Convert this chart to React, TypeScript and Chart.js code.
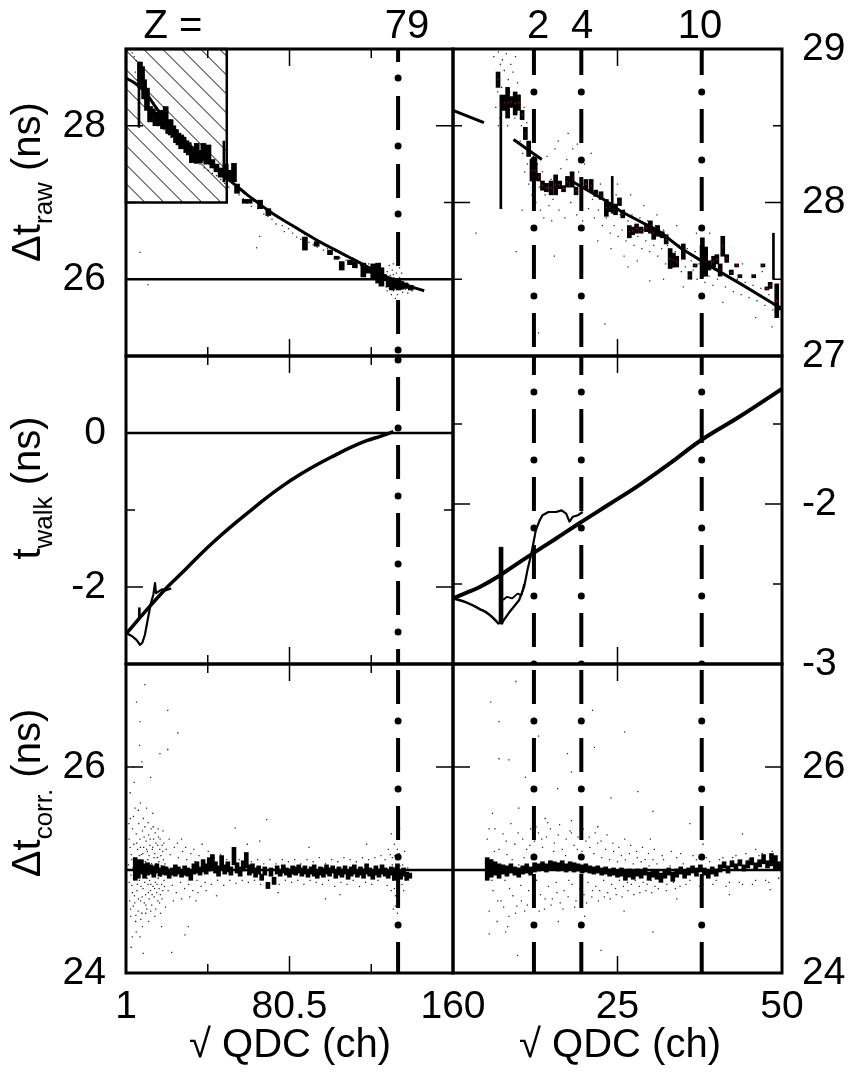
import React, { useEffect, useRef } from 'react';
import { Chart, registerables } from 'chart.js';

Chart.register(...registerables);

const W = 849;
const H = 1076;
const FONT_FAMILY = "'Liberation Sans', Arial, Helvetica, sans-serif";

type Pt = [number, number];
type Bar = [number, number, number];

// ---------------- axis ranges & ticks ----------------
const leftX: Pt = [1, 160];
const rightX: Pt = [0, 50];
const leftXLabels = [1, 80.5, 160];
const rightXLabels = [25, 50];
const leftXMajor = [80.5];
const leftXMinor = [40.75, 120.25];
const rightXMajor = [25];

const tlY: Pt = [25, 29];
const trY: Pt = [27, 29];
const mlY: Pt = [-3, 1];
const mrY: Pt = [-3, -1.075];
const blY: Pt = [24, 27];
const brY: Pt = [24, 27];

const tlYLabels = [28, 26];
const trYLabels = [29, 28, 27];
const mlYLabels = [0, -2];
const mrYLabels = [-2, -3];
const blYLabels = [26, 24];
const brYLabels = [26, 24];

// ---------------- markers ----------------
const zLeft = [133.3];
const zRight = [12.3, 19.5, 37.8];
const hatchBox = [1, 50, 27, 29];
const refTL = 26;
const refML = 0;
const refBottom = 25;

// ---------------- top-left: dt raw vs sqrt QDC (1..160) ----------------
const tlFit: Pt[] = [[1,28.62],[5,28.56],[10,28.45],[15,28.26],[20,28.08],[25,27.93],[30,27.8],[35,27.67],[40,27.55],[45,27.44],[50,27.32],[55,27.21],[60,27.1],[65,27.0],[70,26.9],[75,26.81],[80,26.73],[85,26.65],[90,26.57],[95,26.49],[100,26.42],[105,26.35],[110,26.28],[115,26.21],[120,26.14],[125,26.07],[130,26.0],[135,25.95],[140,25.9],[146,25.85]];
const tlBars: Bar[] = [[7.8,28.5,28.83],[8.8,28.56,28.77],[9.8,28.35,28.6],[11.2,28.2,28.49],[12.7,28.05,28.25],[14,28.1,28.22],[15.3,28.0,28.18],[16.5,28.03,28.15],[17.8,28.0,28.2],[19,27.96,28.12],[20.3,28.0,28.25],[21.5,27.9,28.05],[22.7,27.88,28.08],[24,27.85,28.0],[25.3,27.78,27.95],[26.5,27.75,27.9],[27.8,27.7,27.88],[29,27.72,27.85],[30.3,27.65,27.8],[31.5,27.62,27.78],[33,27.52,27.72],[34.5,27.55,27.66],[35.4,27.51,27.77],[37,27.52,27.68],[38.6,27.55,27.77],[40,27.5,27.62],[41.1,27.53,27.75],[43,27.45,27.56],[45,27.4,27.5],[47,27.33,27.45],[49.5,27.3,27.5],[51.5,27.28,27.42],[53.5,27.27,27.51],[55,27.12,27.24],[58.7,26.99,27.04],[61.1,26.99,27.04],[66.2,26.92,27.03],[70.2,26.83,26.92],[88,26.38,26.55],[93.7,26.43,26.49],[100.2,26.32,26.38],[103.4,26.26,26.3],[105.9,26.12,26.23],[109.9,26.19,26.25],[112.3,26.15,26.23],[116.4,26.03,26.21],[118.8,26.08,26.15],[121.2,26.0,26.2],[123.6,25.95,26.21],[125.2,25.91,26.15],[126.5,25.98,26.06],[128.7,25.9,26.03],[130.3,25.86,26.02],[132,25.88,26.0],[133.5,25.86,25.98],[135,25.87,25.97],[137,25.88,25.95],[139.5,25.86,25.92]];
const tlThinBars: Bar[] = [[7.3,27.98,28.83],[48.6,27.27,27.8]];
const tlDots: Pt[] = [[4,28.95],[5,28.9],[6,28.85],[5.5,28.7],[6.5,28.6],[7,28.75],[8,28.7],[8.5,28.55],[9,28.45],[9.5,28.62],[10,28.35],[10.5,28.5],[11,28.3],[11.5,28.4],[12,28.2],[12.5,28.35],[13,28.1],[13.5,28.25],[14,28.15],[14.5,28.3],[15,28.05],[15.5,28.2],[16,28.12],[16.5,28.0],[17,28.18],[17.5,28.08],[18,27.98],[18.5,28.15],[19,28.05],[19.5,27.95],[20,28.1],[21,27.9],[21.5,28.05],[22,27.95],[22.5,28.08],[23,27.85],[24,27.98],[24.5,27.88],[25,27.8],[25.5,27.95],[26,27.85],[27,27.75],[27.5,27.9],[28,27.8],[29,27.7],[29.5,27.85],[30,27.75],[31,27.65],[31.5,27.8],[32,27.7],[33,27.6],[33.5,27.72],[34,27.65],[35,27.55],[35.5,27.68],[36,27.6],[37,27.5],[37.5,27.62],[38,27.55],[39,27.45],[40,27.52],[41,27.42],[42,27.5],[43,27.38],[44,27.45],[45,27.35],[46,27.4],[47,27.3],[48,27.36],[49,27.25],[50,27.3],[51,27.2],[52,27.28],[54,27.15],[56,27.1],[58,27.05],[60,27.0],[62,26.95],[63,27.02],[65,26.92],[64.5,26.41],[66,26.56],[68,26.85],[70,26.82],[72,26.78],[74,26.72],[75,26.8],[77,26.7],[78,26.62],[80,26.66],[82,26.6],[84,26.55],[86,26.52],[88,26.58],[90,26.48],[92,26.45],[94,26.42],[95,26.5],[97,26.38],[99,26.4],[101,26.33],[103,26.36],[105,26.28],[106,26.22],[108,26.25],[110,26.2],[111,26.28],[113,26.15],[115,26.18],[116,26.1],[118,26.12],[119,26.2],[120,26.08],[121,26.15],[122,26.05],[123,26.1],[124,26.0],[125,26.06],[126,25.95],[127,26.02],[127.5,25.9],[128,26.1],[128.5,25.98],[129,25.88],[129.5,26.05],[130,25.95],[130.5,26.12],[131,25.85],[131.5,26.0],[132,25.92],[132.5,26.08],[133,25.8],[133.5,25.95],[134,26.02],[134.5,25.88],[135,25.97],[135.5,25.83],[136,25.92],[136.5,26.0],[137,25.87],[137.5,25.95],[138,25.82],[139,25.9],[140,25.85],[141,25.88],[129,26.18],[131,26.2],[132,25.75],[133,25.72],[130,25.8],[134,26.15],[128,25.85],[135,26.08],[131,26.06],[132.5,25.98],[133.5,25.88],[130.5,25.9],[129.5,25.93],[7.8,26.35],[11.7,25.93]];

// ---------------- top-right: dt raw vs sqrt QDC (0..50) ----------------
const trFitA: Pt[] = [[0,28.6],[4.7,28.52]];
const trFitB: Pt[] = [[9.2,28.41],[13.5,28.28]];
const trFitC: Pt[] = [[17.2,28.16],[22.9,28.02],[25.6,27.94],[31.4,27.81],[34.7,27.7],[38.5,27.6],[44.1,27.46],[48.7,27.34],[50,27.31]];
const trBars: Bar[] = [[6.85,28.75,28.85],[7.78,28.6,28.7],[8.3,28.55,28.75],[8.8,28.62,28.69],[9.45,28.57,28.72],[9.96,28.6,28.7],[10.5,28.54,28.6],[11.0,28.41,28.49],[11.5,28.3,28.4],[12.0,28.14,28.28],[12.5,28.15,28.26],[13.0,28.14,28.19],[13.6,28.08,28.14],[14.2,28.07,28.125],[14.9,28.05,28.14],[15.6,28.05,28.18],[16.2,28.09,28.14],[16.8,28.07,28.11],[17.4,28.1,28.17],[18.1,28.1,28.2],[18.7,28.05,28.1],[20.2,28.09,28.15],[21.0,28.07,28.15],[21.7,28.04,28.08],[22.5,28.02,28.07],[23.3,27.91,28.02],[23.8,27.94,28.0],[24.7,27.92,27.99],[25.3,27.98,28.03],[25.8,27.9,27.95],[26.8,27.77,27.85],[27.3,27.79,27.84],[27.9,27.8,27.86],[28.6,27.8,27.84],[29.4,27.81,27.86],[30.0,27.8,27.88],[30.5,27.76,27.84],[31.1,27.78,27.85],[31.8,27.77,27.81],[32.4,27.73,27.79],[33.0,27.57,27.7],[33.5,27.58,27.67],[34.0,27.58,27.65],[35.0,27.63,27.73],[36.0,27.5,27.55],[36.8,27.58,27.6],[37.9,27.52,27.77],[38.4,27.52,27.71],[38.9,27.56,27.62],[39.6,27.58,27.65],[40.1,27.6,27.66],[40.6,27.52,27.6],[41.0,27.65,27.78],[41.6,27.61,27.66],[42.3,27.53,27.56],[43.1,27.58,27.6],[43.6,27.51,27.53],[45.7,27.51,27.53],[47.1,27.58,27.6],[47.7,27.43,27.45],[48.2,27.44,27.48],[49.2,27.25,27.47],[49.7,27.3,27.32]];
const trThinBars: Bar[] = [[7.27,27.96,28.7],[24.2,27.93,28.17],[48.7,27.5,27.8]];
const trDots: Pt[] = [[6.2,28.95],[6.6,28.82],[6.9,28.98],[7.2,28.9],[7.5,28.93],[7.8,28.86],[8.1,28.97],[8.4,28.8],[8.8,28.9],[9.1,28.85],[9.5,28.95],[9.8,28.78],[6.5,28.62],[7.1,28.55],[7.6,28.68],[8.3,28.5],[8.9,28.62],[9.4,28.55],[10.1,28.7],[10.4,28.5],[10.8,28.62],[6.8,28.72],[7.4,28.75],[8.6,28.72],[10.2,28.4],[10.6,28.32],[11,28.45],[11.3,28.25],[11.6,28.38],[11.9,28.2],[12.2,28.3],[12.5,28.15],[12.8,28.25],[13.1,28.1],[10.9,28.2],[11.5,28.12],[12,28.05],[12.6,28.0],[13.3,27.95],[10.5,27.95],[11.2,28.52],[12.4,28.42],[13.6,28.2],[14,28.05],[14.3,28.3],[14.6,27.98],[14.9,28.15],[15.2,28.02],[15.5,28.35],[15.8,28.1],[16.1,27.95],[16.4,28.22],[16.7,28.08],[17,27.9],[17.3,28.28],[17.6,28.15],[17.9,28.0],[18.2,28.35],[18.5,28.1],[18.8,27.92],[19.1,28.2],[19.4,28.05],[19.7,27.88],[20,28.25],[20.3,28.1],[20.6,27.96],[20.9,28.15],[21.2,28.02],[13.8,27.9],[15,27.88],[16,28.4],[17.5,28.45],[18.9,28.38],[21,28.32],[21.5,27.9],[21.8,28.08],[22.1,27.95],[22.4,28.12],[22.7,27.85],[23,28.02],[23.3,27.9],[23.6,27.98],[23.9,27.8],[24.2,27.95],[24.5,27.85],[24.8,28.05],[25.1,27.78],[25.4,27.92],[25.7,27.82],[26,27.95],[26.3,27.75],[26.6,27.88],[26.9,27.8],[27.2,27.92],[27.5,27.72],[27.8,27.85],[28.1,27.78],[28.4,27.9],[28.7,27.7],[29,27.82],[29.3,27.75],[29.6,27.88],[29.9,27.68],[30.2,27.8],[22,27.75],[24,27.7],[26,27.65],[28,27.62],[25,28.12],[27,28.05],[29,27.98],[30.5,27.72],[30.8,27.85],[31.1,27.65],[31.4,27.78],[31.7,27.7],[32,27.82],[32.3,27.6],[32.6,27.72],[32.9,27.65],[33.2,27.75],[33.5,27.58],[33.8,27.68],[34.1,27.6],[34.4,27.72],[34.7,27.55],[35,27.65],[35.3,27.58],[35.6,27.7],[35.9,27.52],[36.2,27.62],[36.5,27.56],[36.8,27.68],[37.1,27.5],[37.4,27.6],[37.7,27.54],[38,27.64],[38.3,27.48],[38.6,27.58],[38.9,27.52],[39.2,27.62],[39.5,27.46],[39.8,27.56],[31,27.92],[34,27.85],[37,27.8],[32,27.5],[35,27.45],[39,27.8],[40.2,27.5],[40.8,27.58],[41.4,27.45],[42,27.55],[42.6,27.42],[43.2,27.5],[43.8,27.4],[44.4,27.48],[45,27.38],[45.6,27.46],[46.2,27.36],[46.8,27.44],[47.4,27.33],[48,27.4],[48.6,27.3],[41,27.35],[44,27.6],[47,27.55],[46,27.25],[9.6,27.68],[15.4,27.65],[26.6,27.58],[23.1,27.21],[29.9,27.49],[48.5,27.19],[6.9,28.5],[3.5,27.8],[13,27.15]];

// ---------------- middle-left: t walk ----------------
const mlFit: Pt[] = [[1.3,-2.6],[10,-2.33],[20.8,-2.01],[30,-1.77],[37,-1.58],[45,-1.38],[53.2,-1.19],[61,-1.02],[69.4,-0.84],[77,-0.69],[85.6,-0.54],[94,-0.41],[101.8,-0.3],[110,-0.19],[118,-0.1],[125,-0.04],[131,0.017]];
const mlWalk: Pt[] = [[1.3,-2.6],[4,-2.64],[6.2,-2.69],[7.8,-2.75],[9,-2.72],[10.2,-2.62],[11.8,-2.39],[13,-2.22],[14.3,-2.1],[15.1,-1.95],[15.6,-2.08],[16.7,-2.06],[18.5,-2.03],[20.8,-2.04],[23,-2.02]];
const mlBars: Bar[] = [[7.5,-2.39,-2.27]];

// ---------------- middle-right: t walk ----------------
const mrFit: Pt[] = [[0,-2.59],[2,-2.555],[4,-2.52],[7,-2.45],[9.5,-2.38],[12.1,-2.31],[15.5,-2.22],[19.2,-2.12],[23.8,-2.0],[28.35,-1.88],[33,-1.745],[37.75,-1.6],[43.7,-1.45],[50,-1.28]];
const mrLow: Pt[] = [[0,-2.59],[2,-2.615],[4,-2.655],[5.5,-2.69],[7,-2.75]];
const mrWalk: Pt[] = [[7.3,-2.75],[8.5,-2.68],[10.06,-2.6],[10.8,-2.52],[11.33,-2.41],[11.8,-2.33],[12.1,-2.27],[12.6,-2.16],[13.2,-2.1],[13.6,-2.07],[14.5,-2.05],[15.65,-2.05],[16.5,-2.04],[17.2,-2.06],[17.7,-2.11],[18.2,-2.08],[19,-2.07],[19.7,-2.05]];
const mrWalk2: Pt[] = [[7.6,-2.6],[8.2,-2.58],[9,-2.59],[9.8,-2.56],[10.4,-2.57],[10.8,-2.5]];
const mrBars: Bar[] = [[7.3,-2.75,-2.27]];

// ---------------- bottom-left: dt corrected ----------------
const blBars: Bar[] = [[5.5,24.9,25.12],[7,24.92,25.1],[8.5,24.96,25.1],[10,24.92,25.06],[11.5,24.95,25.07],[13,24.96,25.05],[14.5,24.93,25.04],[16,24.97,25.06],[17.5,24.94,25.02],[19,24.96,25.04],[20.5,24.95,25.03],[22,24.92,25.01],[23.5,24.95,25.02],[25,24.94,25.05],[26.5,24.96,25.03],[28,24.93,25.0],[29.5,24.95,25.04],[31,24.94,25.02],[32.5,24.9,24.99],[34,24.96,25.06],[35.5,24.97,25.08],[37,24.95,25.03],[38.5,24.98,25.1],[40,24.96,25.06],[41.5,24.99,25.12],[43,25.0,25.15],[44.5,24.97,25.08],[46,24.94,25.04],[47.5,25.0,25.14],[49,24.96,25.05],[50.5,24.98,25.08],[52,24.95,25.03],[53.5,25.05,25.22],[55,24.97,25.07],[56.5,24.94,25.03],[58,24.99,25.09],[59.5,25.02,25.17],[61,24.95,25.05],[62.5,24.97,25.06],[64,24.93,25.02],[65.5,24.96,25.04],[67,24.9,24.96],[68.5,24.95,25.03],[70,24.82,24.88],[71.5,24.94,25.02],[73,24.86,24.93],[74.5,24.96,25.04],[76,24.94,25.0],[77.5,24.97,25.05],[79,24.95,25.02],[80.5,24.93,25.01],[82,24.96,25.04],[83.5,24.95,25.03],[85,24.97,25.05],[86.5,24.94,25.02],[88,24.96,25.04],[89.5,24.93,25.0],[91,24.96,25.03],[92.5,24.94,25.05],[94,24.92,25.0],[95.5,24.95,25.03],[97,24.93,25.02],[98.5,24.96,25.05],[100,24.94,25.02],[101.5,24.97,25.04],[103,24.92,25.0],[104.5,24.95,25.03],[106,24.93,25.01],[107.5,24.96,25.04],[109,24.91,24.99],[110.5,24.94,25.03],[112,24.96,25.05],[113.5,24.93,25.0],[115,24.95,25.03],[116.5,24.92,25.01],[118,24.96,25.06],[119.5,24.94,25.02],[121,24.91,25.0],[122.5,24.95,25.04],[124,24.93,25.01],[125.5,24.96,25.05],[127,24.94,25.02],[128.5,24.92,25.0],[130,24.95,25.03],[131.5,24.9,25.02],[133,24.93,25.06],[134.5,24.91,25.0],[136,24.94,25.02],[137.5,24.9,24.98],[139,24.92,24.97]];
const blDots: Pt[] = [[2.5,25.3],[2.8,24.7],[3.1,25.5],[3.3,24.55],[3.6,25.15],[3.9,24.85],[4.2,25.4],[4.5,24.65],[4.8,25.25],[5.1,24.75],[5.4,25.6],[5.7,24.5],[6.0,25.35],[6.3,24.8],[6.6,25.2],[6.9,24.6],[7.2,25.45],[7.5,24.9],[7.8,25.3],[8.1,24.7],[8.4,25.15],[8.7,24.58],[9.0,25.38],[9.3,24.82],[9.6,25.22],[9.9,24.68],[10.2,25.42],[10.5,24.76],[10.8,25.28],[11.1,24.62],[11.4,25.18],[11.7,24.86],[12.0,25.34],[12.3,24.72],[12.6,25.24],[12.9,24.8],[13.2,25.4],[13.5,24.66],[13.8,25.2],[14.1,24.84],[14.4,25.3],[14.7,24.74],[15.0,25.16],[15.3,24.88],[15.6,25.26],[15.9,24.78],[16.2,25.12],[16.5,24.7],[16.8,25.32],[17.1,24.82],[17.4,25.2],[17.7,24.76],[18.0,25.14],[18.3,24.86],[18.6,25.24],[18.9,24.8],[19.2,25.1],[19.5,24.9],[3,25.75],[4,24.35],[5,25.85],[6,24.4],[8,25.65],[9,24.45],[11,25.6],[12,24.5],[14,25.55],[15,24.55],[10.2,26.8],[6.1,26.63],[21.3,26.55],[7.8,26.44],[26.2,26.33],[7.6,26.21],[21.3,26.17],[8.7,26.05],[17.5,26.13],[69.4,25.49],[54.1,25.41],[9.4,24.19],[23.2,24.2],[18.3,24.45],[31.3,24.45],[7.8,24.35],[29.7,24.37],[4.5,26.0],[13,25.9],[3.5,24.25],[20.5,25.2],[21.5,24.8],[22.5,25.15],[23.5,24.85],[24.5,25.22],[25.5,24.78],[26.5,25.12],[27.5,24.88],[28.5,25.18],[29.5,24.82],[30.5,25.1],[31.5,24.86],[32.5,25.16],[33.5,24.8],[34.5,25.08],[35.5,24.9],[36.5,25.14],[37.5,24.84],[38.5,25.1],[39.5,24.88],[41,25.18],[42.5,24.86],[44,25.12],[45.5,24.9],[47,25.15],[48.5,24.85],[50,25.1],[51.5,24.9],[53,25.13],[54.5,24.87],[56,25.1],[57.5,24.9],[59,25.12],[60.5,24.88],[62,25.08],[63.5,24.9],[65,25.1],[66.5,24.86],[68,25.06],[69.5,24.88],[71,25.1],[72.5,24.9],[74,25.06],[75.5,24.86],[77,25.1],[78.5,24.9],[80,25.08],[81.5,24.88],[83,25.1],[84.5,24.9],[86,25.06],[87.5,24.86],[89,25.1],[90.5,24.9],[92,25.08],[93.5,24.88],[95,25.12],[96.5,24.86],[98,25.06],[99.5,24.9],[101,25.1],[102.5,24.84],[104,25.08],[105.5,24.88],[107,25.12],[108.5,24.86],[110,25.1],[111.5,24.9],[113,25.08],[114.5,24.84],[116,25.12],[117.5,24.88],[119,25.1],[120.5,24.86],[122,25.12],[123.5,24.9],[125,25.14],[28,25.3],[45,24.75],[60,25.25],[75,24.78],[90,25.22],[105,24.76],[118,25.25],[35,24.7],[66,25.28],[98,24.72],[127,25.1],[128,24.85],[128.5,25.2],[129,24.95],[129.5,25.15],[130,24.8],[130.5,25.05],[131,24.9],[131.5,25.25],[132,24.75],[132.5,25.1],[133,24.7],[133.5,25.3],[134,24.85],[134.5,25.12],[135,24.92],[135.5,25.05],[136,24.8],[136.5,25.18],[137,24.9],[138,25.02],[139,24.95],[131,24.62],[133,24.58],[134,25.4],[130,25.35],[132,24.65],[133,25.2],[133.5,24.8],[132.5,24.9],[2.2,25.05],[2.6,24.88],[3.0,25.22],[3.4,24.95],[3.8,25.1],[4.1,24.78],[4.4,25.02],[4.7,24.92],[5.0,25.12],[5.3,24.68],[5.6,25.08],[5.9,24.96],[6.2,25.26],[6.5,24.86],[6.8,25.04],[7.1,24.72],[7.4,25.14],[7.7,24.94],[8.0,25.22],[8.3,24.84],[8.6,25.06],[8.9,24.74],[9.2,25.16],[9.5,24.96],[9.8,25.32],[10.1,24.88],[10.4,25.08],[10.7,24.66],[11.0,25.2],[11.3,24.92],[11.6,25.1],[11.9,24.78],[12.2,25.14],[12.5,24.9],[12.8,25.3],[13.1,24.86],[13.4,25.06],[13.7,24.76],[14.0,25.22],[14.3,24.94],[14.6,25.12],[14.9,24.82],[15.2,25.36],[15.5,24.96],[15.8,25.06],[16.1,24.86],[16.4,25.24],[16.7,24.92],[17.0,25.08],[17.3,24.68],[17.6,25.3],[17.9,24.94],[18.2,25.04],[18.5,24.72],[18.8,25.18],[19.1,24.96],[19.4,25.26],[19.7,24.84],[20.0,25.06],[2.4,25.45],[3.2,24.62],[4.6,25.52],[5.8,24.56],[7.0,25.58],[8.2,24.52],[9.4,25.5],[10.6,24.58],[11.8,25.46],[13.0,24.6],[14.2,25.42],[15.4,24.62],[16.6,25.4],[17.8,24.58],[19.0,25.38],[20.2,24.64],[22,25.3],[24,24.7],[26,25.26],[28,24.72],[30,25.22],[32,24.74],[34,25.2],[36,24.78],[38,25.25],[40,24.8],[129.5,24.98],[130.5,25.12],[131.5,24.82],[132,25.02],[133.2,24.95],[134.2,25.04],[135.2,24.86],[131.8,25.14],[132.8,24.88],[133.8,25.16]];

// ---------------- bottom-right: dt corrected ----------------
const brBars: Bar[] = [[5.2,24.9,25.12],[5.8,24.93,25.1],[6.4,24.95,25.08],[7,24.92,25.06],[7.6,24.96,25.05],[8.2,24.94,25.04],[8.8,24.97,25.06],[9.4,24.95,25.03],[10,24.93,25.02],[10.6,24.96,25.04],[11.2,24.97,25.06],[11.8,24.95,25.03],[12.4,24.98,25.07],[13,24.99,25.06],[13.6,25.0,25.08],[14.2,24.98,25.06],[14.8,25.0,25.09],[15.4,25.01,25.08],[16,24.99,25.07],[16.6,25.0,25.09],[17.2,24.98,25.06],[17.8,25.0,25.08],[18.4,24.98,25.07],[19,24.99,25.06],[19.6,24.97,25.05],[20.2,24.98,25.06],[20.8,24.97,25.04],[21.4,24.96,25.03],[22,24.97,25.04],[22.6,24.95,25.02],[23.2,24.96,25.03],[23.8,24.94,25.01],[24.4,24.95,25.02],[25,24.93,25.0],[25.6,24.94,25.02],[26.2,24.9,24.99],[26.8,24.93,25.01],[27.4,24.91,24.99],[28,24.94,25.01],[28.6,24.92,25.0],[29.2,24.95,25.02],[29.8,24.9,24.98],[30.4,24.93,25.0],[31,24.91,24.99],[31.6,24.88,24.97],[32.2,24.92,25.0],[32.8,24.95,25.02],[33.4,24.89,24.98],[34,24.93,25.01],[34.6,24.96,25.03],[35.2,24.92,25.0],[35.8,24.95,25.02],[36.4,24.97,25.04],[37,24.94,25.02],[37.6,24.98,25.05],[38.2,24.95,25.02],[38.8,24.92,25.0],[39.4,24.96,25.03],[40,24.94,25.01],[40.6,24.98,25.05],[41.2,25.02,25.08],[41.8,24.97,25.04],[42.4,25.03,25.09],[43,25.0,25.06],[43.6,25.04,25.1],[44.2,24.99,25.05],[44.8,25.02,25.09],[45.4,25.05,25.12],[46,25.0,25.07],[46.6,25.03,25.1],[47.2,25.06,25.15],[47.8,25.02,25.09],[48.4,25.04,25.16],[49,25.0,25.14],[49.6,25.01,25.08]];
const brDots: Pt[] = [[5.2,25.3],[5.5,24.6],[5.8,25.1],[6.1,24.8],[6.4,25.4],[6.7,24.5],[7.0,25.2],[7.3,24.7],[7.6,25.35],[7.9,24.9],[8.2,25.15],[8.5,24.55],[8.8,25.45],[9.1,24.75],[9.4,25.25],[9.7,24.65],[10.0,25.05],[10.3,24.85],[10.6,25.3],[10.9,24.6],[11.2,25.2],[11.5,24.8],[11.8,25.4],[12.1,24.7],[12.4,25.28],[12.7,24.9],[13.0,25.36],[13.3,24.76],[13.6,25.22],[13.9,24.62],[14.2,25.32],[14.5,24.84],[14.8,25.4],[15.1,24.72],[15.4,25.26],[15.7,24.88],[16.0,25.34],[16.3,24.68],[16.6,25.2],[16.9,24.8],[17.2,25.3],[17.5,24.74],[17.8,25.38],[18.1,24.86],[18.4,25.24],[18.7,24.7],[19.0,25.32],[19.3,24.82],[19.6,25.18],[19.9,24.76],[20.2,25.28],[20.5,24.88],[20.8,25.22],[21.1,24.74],[21.4,25.16],[21.7,24.84],[22.0,25.26],[22.3,24.8],[22.6,25.12],[22.9,24.9],[23.2,25.2],[23.5,24.78],[23.8,25.1],[24.1,24.86],[24.4,25.18],[24.7,24.82],[25.0,25.08],[25.3,24.9],[25.6,25.14],[25.9,24.84],[26.2,25.1],[26.5,24.88],[26.8,25.16],[27.1,24.86],[27.4,25.06],[27.7,24.9],[28.0,25.12],[28.3,24.84],[28.6,25.08],[28.9,24.88],[29.2,25.1],[29.5,24.86],[29.8,25.04],[30.1,24.9],[30.4,25.1],[30.7,24.84],[31.0,25.06],[31.5,24.9],[32,25.1],[32.5,24.86],[33,25.04],[33.5,24.88],[34,25.12],[34.5,24.84],[35,25.06],[36,24.9],[37,25.1],[38,24.86],[39,25.08],[40,24.9],[41,25.12],[42,24.88],[43,25.14],[44,24.86],[45,25.1],[46,24.9],[47,25.16],[48,24.88],[49,25.1],[6,25.55],[8,24.4],[10,25.6],[12,24.45],[14,25.5],[16,24.5],[18,25.48],[20,24.55],[22,25.42],[26,24.6],[30,25.3],[34,24.72],[38,25.25],[42,24.76],[46,25.2],[9.55,26.83],[5.74,26.63],[7.0,26.44],[21.2,26.55],[21.5,26.19],[26.1,26.34],[17.4,26.13],[7.0,26.08],[8.5,26.07],[28.1,25.76],[30.4,25.57],[15.9,25.79],[5.5,25.4],[8.3,24.45],[9.8,24.17],[22.5,24.22],[30.4,24.4],[48.2,24.81],[5.5,24.38],[11,25.9],[13,26.3],[18,25.95],[24,25.7],[36,25.45],[44,25.35],[5.4,25.05],[5.9,24.9],[6.3,25.18],[6.8,24.7],[7.2,25.02],[7.7,24.64],[8.1,25.28],[8.6,24.82],[9.0,25.1],[9.5,24.58],[9.9,25.36],[10.4,24.7],[10.8,25.12],[11.3,24.66],[11.7,25.24],[12.2,24.94],[12.6,25.42],[13.1,24.6],[13.5,25.3],[14.0,24.72],[14.4,25.46],[14.9,24.66],[15.3,25.18],[15.8,24.78],[16.2,25.44],[16.7,24.62],[17.1,25.14],[17.6,24.9],[18.0,25.36],[18.5,24.64],[18.9,25.2],[19.4,24.72],[19.8,25.4],[20.3,24.68],[20.7,25.32],[21.2,24.8],[21.6,25.36],[22.1,24.7],[22.5,25.28],[23.0,24.74],[23.4,25.34],[23.9,24.72],[24.3,25.26],[24.8,24.76],[25.2,25.22],[25.7,24.74],[26.1,25.3],[26.6,24.8],[27.0,25.24],[27.5,24.76],[27.9,25.18],[28.4,24.78],[28.8,25.22],[29.3,24.8],[29.7,25.16],[30.2,24.78],[30.6,25.2],[31.2,24.82],[31.8,25.14],[32.4,24.8],[33.2,25.18],[33.8,24.82],[34.6,25.16],[35.4,24.86],[36.5,25.14],[37.5,24.84],[38.5,25.12],[39.5,24.86],[40.5,25.1],[41.5,24.84],[42.5,25.12],[43.5,24.88],[44.5,25.16],[45.5,24.86],[46.5,25.14],[47.5,24.9],[48.5,25.18],[49.5,24.92]];

// ---------------- helpers ----------------
const pts = (a: Pt[]) => a.map(([x, y]) => ({ x, y }));

function dotsDs(a: Pt[]) {
  return { type: 'scatter', data: pts(a), showLine: false, pointRadius: 0.9, pointStyle: 'rect', pointBackgroundColor: 'rgba(0,0,0,0.85)', pointBorderWidth: 0, order: 9 };
}
function barsDs(a: Bar[], thickness: number) {
  return { type: 'bar', data: a.map(([x, lo, hi]) => ({ x, y: [lo, hi] })), backgroundColor: '#000', borderWidth: 0, barThickness: thickness, grouped: false, order: 6 };
}
function redDs(a: Bar[]) {
  return { type: 'scatter', data: a.map(([x, lo, hi]) => ({ x, y: (lo + hi) / 2 })), showLine: false, pointRadius: 0.9, pointStyle: 'rect', pointBackgroundColor: '#d40000', pointBorderWidth: 0, order: 5 };
}
function lineDs(a: Pt[], width: number, smooth: boolean) {
  return { type: 'line', data: pts(a), borderColor: '#000', borderWidth: width, pointRadius: 0, fill: false, cubicInterpolationMode: 'default', tension: smooth ? 0.4 : 0, borderJoinStyle: 'round', order: 3 };
}
function hLineDs(y: number, x: Pt) {
  return { type: 'line', data: [{ x: x[0], y }, { x: x[1], y }], borderColor: '#000', borderWidth: 2.5, pointRadius: 0, fill: false, order: 4 };
}
function zLineDs(x: number, yr: Pt, dashOff: number, dotOff: number) {
  const data = [{ x, y: yr[0] }, { x, y: yr[1] }];
  return [
    { type: 'line', data, borderColor: '#000', borderWidth: 4, borderDash: [34, 34], borderDashOffset: dashOff, borderCapStyle: 'butt', pointRadius: 0, fill: false, order: 1 },
    { type: 'line', data, borderColor: '#000', borderWidth: 7, borderDash: [0, 68], borderDashOffset: dotOff, borderCapStyle: 'round', pointRadius: 0, fill: false, order: 1 },
  ];
}

type Panel = {
  box: [number, number, number, number];
  x: Pt; y: Pt; yPos: 'left' | 'right';
  xLabels: number[]; yLabels: number[];
  xMajor: number[]; xMinor: number[]; yMajor: number[]; yMinor: number[];
  datasets: any[];
  hatch?: number[];
};

function buildPanels(): Panel[] {
  const L: Pt = [126, 453];
  const R: Pt = [453, 782];
  const rows: Pt[] = [[49, 356], [356, 664], [664, 973]];
  return [
    {
      box: [L[0], rows[0][0], L[1], rows[0][1]], x: leftX, y: tlY, yPos: 'left',
      xLabels: [], yLabels: tlYLabels, xMajor: leftXMajor, xMinor: leftXMinor, yMajor: [28, 26], yMinor: [27],
      hatch: hatchBox,
      datasets: [dotsDs(tlDots), barsDs(tlBars, 5), barsDs(tlThinBars, 2), lineDs(tlFit, 3, true), hLineDs(refTL, leftX), ...zLeft.flatMap(z => zLineDs(z, tlY, 46, 62))],
    },
    {
      box: [R[0], rows[0][0], R[1], rows[0][1]], x: rightX, y: trY, yPos: 'right',
      xLabels: [], yLabels: trYLabels, xMajor: rightXMajor, xMinor: [], yMajor: [28], yMinor: [28.5, 27.5],
      datasets: [dotsDs(trDots), barsDs(trBars, 4), barsDs(trThinBars, 2), redDs(trBars), lineDs(trFitA, 3, false), lineDs(trFitB, 3, false), lineDs(trFitC, 3, false), ...zRight.flatMap(z => zLineDs(z, trY, 59, 8))],
    },
    {
      box: [L[0], rows[1][0], L[1], rows[1][1]], x: leftX, y: mlY, yPos: 'left',
      xLabels: [], yLabels: mlYLabels, xMajor: leftXMajor, xMinor: leftXMinor, yMajor: [0, -2], yMinor: [-1],
      datasets: [barsDs(mlBars, 2), lineDs(mlWalk, 2.2, false), lineDs(mlFit, 3.5, true), hLineDs(refML, leftX), ...zLeft.flatMap(z => zLineDs(z, mlY, 19, 36))],
    },
    {
      box: [R[0], rows[1][0], R[1], rows[1][1]], x: rightX, y: mrY, yPos: 'right',
      xLabels: [], yLabels: mrYLabels, xMajor: rightXMajor, xMinor: [], yMajor: [-2], yMinor: [-1.5, -2.5],
      datasets: [barsDs(mrBars, 4), lineDs(mrWalk, 2.2, false), lineDs(mrWalk2, 1.8, false), lineDs(mrLow, 2.5, true), lineDs(mrFit, 4, true), ...zRight.flatMap(z => zLineDs(z, mrY, 51, 0))],
    },
    {
      box: [L[0], rows[2][0], L[1], rows[2][1]], x: leftX, y: blY, yPos: 'left',
      xLabels: leftXLabels, yLabels: blYLabels, xMajor: leftXMajor, xMinor: leftXMinor, yMajor: [26], yMinor: [25],
      datasets: [dotsDs(blDots), barsDs(blBars, 4), hLineDs(refBottom, leftX), ...zLeft.flatMap(z => zLineDs(z, blY, 3, 20))],
    },
    {
      box: [R[0], rows[2][0], R[1], rows[2][1]], x: rightX, y: brY, yPos: 'right',
      xLabels: rightXLabels, yLabels: brYLabels, xMajor: rightXMajor, xMinor: [], yMajor: [26], yMinor: [25],
      datasets: [dotsDs(brDots), barsDs(brBars, 4), hLineDs(refBottom, rightX), ...zRight.flatMap(z => zLineDs(z, brY, 3, 20))],
    },
  ];
}

function makeDeco(p: Panel) {
  return {
    id: 'panelDeco',
    beforeDatasetsDraw(chart: any) {
      const h = p.hatch;
      if (!h) return;
      const { ctx } = chart;
      const xs = chart.scales.x, ys = chart.scales.y;
      const l = xs.getPixelForValue(h[0]), r = xs.getPixelForValue(h[1]);
      const t = ys.getPixelForValue(h[3]), b = ys.getPixelForValue(h[2]);
      const hh = b - t;
      ctx.save();
      ctx.beginPath();
      ctx.rect(l, t, r - l, hh);
      ctx.clip();
      ctx.beginPath();
      ctx.lineWidth = 1;
      ctx.strokeStyle = '#000';
      for (let k = -hh; k < r - l; k += 19) {
        ctx.moveTo(l + k, t);
        ctx.lineTo(l + k + hh, b);
      }
      ctx.stroke();
      ctx.restore();
      ctx.save();
      ctx.lineWidth = 2.5;
      ctx.strokeStyle = '#000';
      ctx.strokeRect(l, t, r - l, hh);
      ctx.restore();
    },
    afterDatasetsDraw(chart: any) {
      const { ctx, chartArea: a } = chart;
      const xs = chart.scales.x, ys = chart.scales.y;
      ctx.save();
      ctx.strokeStyle = '#000';
      ctx.lineWidth = 1.5;
      ctx.beginPath();
      const tx = (v: number, len: number) => {
        const q = xs.getPixelForValue(v);
        ctx.moveTo(q, a.bottom); ctx.lineTo(q, a.bottom - len);
        ctx.moveTo(q, a.top); ctx.lineTo(q, a.top + len);
      };
      const ty = (v: number, len: number) => {
        const q = ys.getPixelForValue(v);
        ctx.moveTo(a.left, q); ctx.lineTo(a.left + len, q);
        ctx.moveTo(a.right, q); ctx.lineTo(a.right - len, q);
      };
      p.xMajor.forEach(v => tx(v, 17));
      p.xMinor.forEach(v => tx(v, 9));
      p.yMajor.forEach(v => ty(v, 17));
      p.yMinor.forEach(v => ty(v, 9));
      ctx.stroke();
      ctx.lineWidth = 3;
      ctx.strokeRect(a.left, a.top, a.right - a.left, a.bottom - a.top);
      ctx.restore();
    },
  };
}

function makeChart(canvas: HTMLCanvasElement, p: Panel) {
  const [l, t, r, b] = p.box;
  const font = { family: FONT_FAMILY, size: 39 };
  const hasX = p.xLabels.length > 0;
  const yW = p.yPos === 'left' ? l : W - r;
  return new Chart(canvas, {
    type: 'scatter',
    data: { datasets: p.datasets },
    options: {
      responsive: false,
      maintainAspectRatio: false,
      animation: false,
      devicePixelRatio: 1,
      events: [],
      layout: {
        padding: {
          left: p.yPos === 'left' ? 0 : l,
          right: p.yPos === 'right' ? 0 : W - r,
          top: t,
          bottom: hasX ? 0 : H - b,
        },
      },
      plugins: { legend: { display: false }, tooltip: { enabled: false } },
      scales: {
        x: {
          type: 'linear', position: 'bottom', min: p.x[0], max: p.x[1], offset: false, beginAtZero: false,
          grid: { display: false, drawTicks: false, offset: false }, border: { display: false },
          ticks: { display: hasX, padding: 11, autoSkip: false, maxRotation: 0, minRotation: 0, color: '#000', font, callback: (v: any) => String(v) },
          afterBuildTicks: (s: any) => { s.ticks = p.xLabels.map(v => ({ value: v })); },
          afterFit: (s: any) => { s.height = hasX ? H - b : 0; s.paddingLeft = 0; s.paddingRight = 0; },
        },
        y: {
          type: 'linear', position: p.yPos, min: p.y[0], max: p.y[1], offset: false, beginAtZero: false,
          grid: { display: false, drawTicks: false }, border: { display: false },
          ticks: { display: true, padding: 20, autoSkip: false, color: '#000', font, callback: (v: any) => String(v) },
          afterBuildTicks: (s: any) => { s.ticks = p.yLabels.map(v => ({ value: v })); },
          afterFit: (s: any) => { s.width = yW; s.paddingTop = 0; s.paddingBottom = 0; },
        },
      },
    } as any,
    plugins: [makeDeco(p)],
  } as any);
}

const textStyle = (cx: number, cy: number, rotate: boolean): React.CSSProperties => ({
  position: 'absolute', left: cx, top: cy,
  transform: `translate(-50%, -50%)${rotate ? ' rotate(-90deg)' : ''}`,
  whiteSpace: 'nowrap', fontSize: 40, lineHeight: '40px', color: '#000', fontFamily: FONT_FAMILY,
});
const subStyle: React.CSSProperties = { fontSize: 26, position: 'relative', top: 12 };

export default function App() {
  const refs = useRef<(HTMLCanvasElement | null)[]>([]);
  useEffect(() => {
    const charts = buildPanels().map((p, i) => makeChart(refs.current[i] as HTMLCanvasElement, p));
    return () => charts.forEach(c => c.destroy());
  }, []);
  return (
    <div style={{ position: 'absolute', left: 0, top: 0, width: W, height: H, background: '#fff', overflow: 'hidden' }}>
      {[0, 1, 2, 3, 4, 5].map(i => (
        <canvas key={i} ref={el => { refs.current[i] = el; }} width={W} height={H} style={{ position: 'absolute', left: 0, top: 0, width: W, height: H }} />
      ))}
      <div style={textStyle(28, 182, true)}>Δt<span style={subStyle}>raw</span> (ns)</div>
      <div style={textStyle(28, 488, true)}>t<span style={subStyle}>walk</span> (ns)</div>
      <div style={textStyle(28, 793, true)}>Δt<span style={subStyle}>corr.</span> (ns)</div>
      <div style={textStyle(290, 1043, false)}>√ QDC (ch)</div>
      <div style={textStyle(620, 1043, false)}>√ QDC (ch)</div>
      <div style={textStyle(173, 24, false)}>Z =</div>
      <div style={textStyle(407, 24, false)}>79</div>
      <div style={textStyle(538, 24, false)}>2</div>
      <div style={textStyle(582, 24, false)}>4</div>
      <div style={textStyle(700, 24, false)}>10</div>
    </div>
  );
}
